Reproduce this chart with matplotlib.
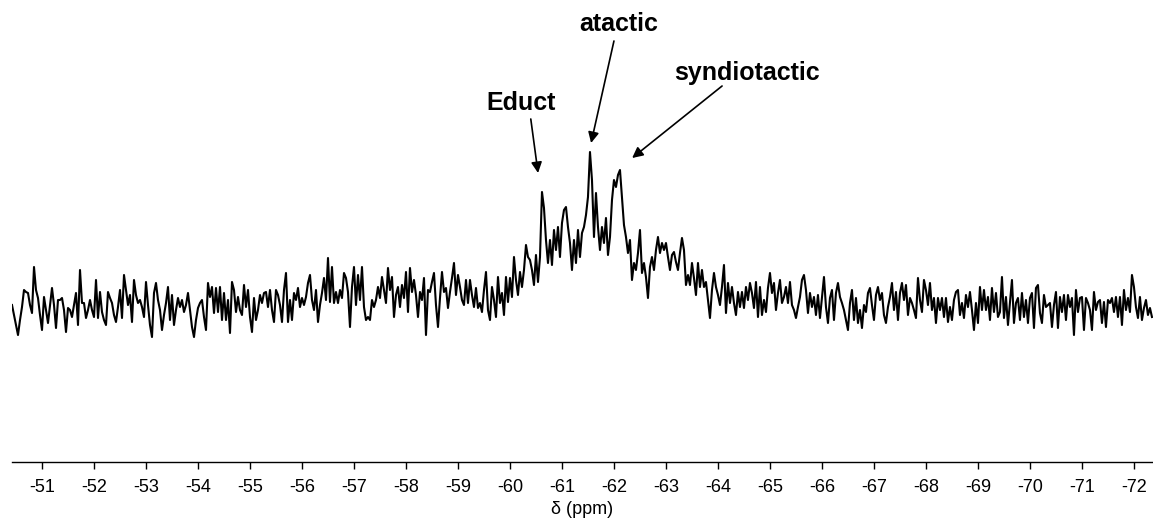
import numpy as np
import matplotlib
matplotlib.use("Agg")
import matplotlib.pyplot as plt

plt.rcParams['font.family'] = ['Liberation Sans', 'DejaVu Sans']

# 19F NMR trace, intensity in arbitrary units
intensity = [
    45, 35, 25, 15, 30, 43, 60, 58, 57, 45,
    37, 83, 60, 52, 35, 20, 53, 40, 27, 45,
    62, 45, 22, 50, 50, 52, 40, 18, 42, 40,
    33, 45, 57, 25, 80, 47, 47, 32, 40, 50,
    40, 33, 70, 32, 58, 38, 30, 25, 58, 52,
    47, 35, 28, 43, 60, 32, 75, 60, 45, 55,
    28, 70, 55, 47, 50, 43, 33, 68, 45, 25,
    13, 57, 67, 50, 40, 20, 35, 47, 63, 30,
    55, 25, 40, 52, 43, 50, 38, 45, 57, 40,
    23, 13, 30, 42, 47, 50, 33, 20, 67, 53,
    63, 37, 62, 38, 63, 30, 57, 30, 50, 17,
    68, 60, 38, 53, 40, 35, 65, 43, 60, 33,
    18, 52, 30, 40, 55, 47, 57, 58, 43, 60,
    40, 28, 60, 55, 45, 28, 60, 77, 28, 50,
    30, 57, 50, 62, 43, 52, 45, 53, 67, 75,
    50, 40, 60, 28, 45, 57, 72, 50, 92, 48,
    83, 47, 58, 47, 60, 52, 77, 72, 58, 23,
    63, 83, 45, 75, 50, 83, 43, 30, 33, 30,
    50, 43, 50, 63, 52, 73, 60, 47, 82, 60,
    73, 33, 55, 63, 43, 65, 52, 78, 38, 82,
    58, 70, 55, 33, 58, 50, 72, 15, 60, 58,
    68, 77, 45, 23, 52, 78, 58, 62, 42, 58,
    72, 87, 55, 75, 63, 50, 45, 70, 47, 70,
    55, 43, 62, 42, 47, 38, 60, 78, 40, 30,
    63, 50, 33, 73, 47, 57, 35, 73, 48, 72,
    53, 93, 70, 55, 78, 63, 80, 105, 93, 90,
    80, 65, 95, 68, 93, 158, 142, 110, 87, 110,
    85, 120, 100, 123, 93, 127, 140, 143, 123, 107,
    80, 110, 87, 120, 93, 117, 123, 135, 153, 198,
    170, 113, 157, 123, 100, 123, 107, 132, 95, 113,
    150, 170, 163, 175, 180, 153, 125, 113, 97, 110,
    70, 87, 80, 97, 120, 77, 87, 73, 52, 83,
    93, 80, 100, 113, 97, 107, 100, 107, 93, 80,
    95, 98, 88, 80, 97, 112, 100, 65, 75, 65,
    87, 72, 55, 87, 63, 80, 63, 68, 50, 32,
    60, 77, 63, 55, 45, 63, 85, 37, 67, 47,
    63, 47, 35, 58, 43, 58, 42, 63, 50, 67,
    57, 42, 68, 33, 63, 35, 50, 38, 62, 77,
    57, 67, 40, 57, 70, 47, 53, 63, 47, 68,
    45, 40, 32, 43, 53, 70, 75, 60, 37, 57,
    43, 53, 35, 55, 32, 53, 73, 43, 27, 52,
    60, 30, 57, 67, 53, 47, 40, 30, 20, 47,
    60, 30, 52, 27, 40, 22, 45, 38, 57, 62,
    45, 30, 55, 63, 50, 57, 35, 27, 43, 53,
    67, 40, 58, 30, 57, 67, 50, 65, 35, 52,
    47, 40, 32, 72, 50, 38, 70, 60, 45, 67,
    40, 52, 27, 52, 40, 52, 33, 52, 28, 43,
    30, 50, 58, 60, 35, 47, 32, 55, 43, 58,
    40, 20, 47, 27, 63, 40, 60, 40, 53, 30,
    62, 38, 57, 33, 38, 73, 32, 53, 25, 47,
    70, 27, 47, 52, 30, 57, 33, 50, 27, 52,
    57, 22, 62, 65, 37, 27, 55, 43, 45, 47,
    23, 45, 58, 22, 53, 38, 55, 30, 55, 43,
    52, 15, 60, 38, 52, 53, 20, 52, 47, 40,
    20, 58, 40, 48, 50, 27, 48, 23, 50, 47,
    52, 38, 53, 33, 53, 25, 60, 40, 52, 38,
    75, 63, 43, 32, 53, 30, 42, 50, 35, 42,
    33,
]
shift_start = -50.42   # ppm of first point
shift_end = -72.35     # ppm of last point
shift = np.linspace(shift_start, shift_end, len(intensity))

tick_ppm = list(range(-51, -73, -1))

# (label, text position, arrow tail, arrow tip) in ppm / intensity
labels = ["Educt", "atactic", "syndiotactic"]
label_xy = [(-60.21, 247), (-62.10, 326), (-64.56, 277)]
tail_xy = [(-60.40, 231), (-62.00, 309), (-64.08, 264)]
tip_xy = [(-60.54, 177), (-61.56, 207), (-62.35, 192)]

fig = plt.figure(figsize=(11.53, 5.21), dpi=100)
ax = fig.add_axes([12 / 1153, 59 / 521, 1 - 12 / 1153, 1 - 59 / 521])

ax.plot(shift, intensity, color='black', lw=1.5)

ax.set_xlim(-50.42, -72.37)
ax.set_ylim(-112, 350)

for s in ['top', 'left', 'right']:
    ax.spines[s].set_visible(False)
ax.spines['bottom'].set_linewidth(1.0)
ax.set_yticks([])
ax.set_xticks(tick_ppm)
ax.set_xticklabels([str(t) for t in tick_ppm])
ax.tick_params(axis='x', direction='out', length=5, width=1.0,
               labelsize=13, pad=7)
ax.set_xlabel("δ (ppm)", fontsize=13, labelpad=4)

for lab, txy, a, b in zip(labels, label_xy, tail_xy, tip_xy):
    ax.text(txy[0], txy[1], lab, fontsize=18, fontweight='bold',
            ha='center', va='center')
    ax.annotate('', xy=b, xytext=a,
                arrowprops=dict(arrowstyle='-|>', color='black', lw=1.2,
                                mutation_scale=16, shrinkA=0, shrinkB=0))

fig.savefig("out.png", dpi=100)
